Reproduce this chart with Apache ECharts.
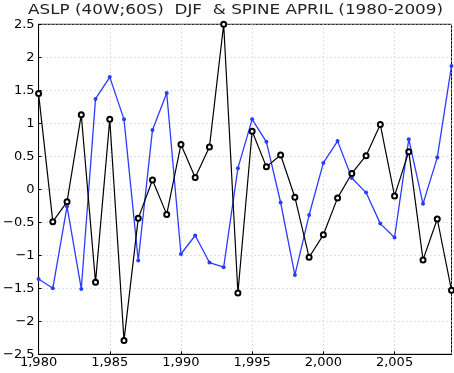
<!DOCTYPE html>
<html>
<head>
<meta charset="utf-8">
<script src="https://cdn.jsdelivr.net/npm/echarts@6/dist/echarts.min.js"></script>
<style>
  html, body { margin: 0; padding: 0; background: #fff; }
  #chart { width: 454px; height: 373px; }
</style>
</head>
<body>
<div id="chart"></div>
<script>
const years = [1980, 1981, 1982, 1983, 1984, 1985, 1986, 1987, 1988, 1989,
  1990, 1991, 1992, 1993, 1994, 1995, 1996, 1997, 1998, 1999,
  2000, 2001, 2002, 2003, 2004, 2005, 2006, 2007, 2008, 2009];
const aslp = [1.45, -0.49, -0.19, 1.13, -1.41, 1.06, -2.29, -0.44, 0.14, -0.38,
  0.68, 0.18, 0.64, 2.5, -1.57, 0.88, 0.34, 0.52, -0.12, -1.03,
  -0.69, -0.13, 0.24, 0.51, 0.98, -0.1, 0.57, -1.07, -0.45, -1.53];
const spine = [-1.36, -1.5, -0.26, -1.51, 1.37, 1.7, 1.06, -1.08, 0.9, 1.46,
  -0.98, -0.7, -1.11, -1.18, 0.32, 1.06, 0.72, -0.2, -1.3, -0.39,
  0.4, 0.73, 0.17, -0.05, -0.52, -0.73, 0.76, -0.22, 0.48, 1.87];
const titleText = 'ASLP (40W;60S)  DJF  & SPINE APRIL (1980-2009)';

const chart = echarts.init(document.getElementById('chart'));
const pair = (vals) => years.map((y, i) => [y, vals[i]]);
const fontFam = 'DejaVu Sans';

chart.setOption({
  animation: false,
  graphic: [{
    type: 'text', left: 28, top: 3, scaleX: 1.2,
    style: { text: titleText, font: '14px "DejaVu Sans"', fill: '#222' }
  }],
  grid: { left: 37.7, right: 2.5, top: 24.3, bottom: 18.7, show: true, borderColor: '#000', borderWidth: 1 },
  xAxis: {
    type: 'value', min: 1980, max: 2009, interval: 5,
    axisLine: { show: true, onZero: false, lineStyle: { color: '#000' } },
    axisTick: { show: true, inside: true, length: 3, lineStyle: { color: '#000' } },
    axisLabel: { fontFamily: fontFam, fontSize: 13, color: '#000', margin: 2, showMaxLabel: false },
    splitLine: { show: true, lineStyle: { color: '#c4c4c4', type: [1, 3] } }
  },
  yAxis: {
    type: 'value', min: -2.5, max: 2.5, interval: 0.5,
    axisLine: { show: true, onZero: false, lineStyle: { color: '#000' } },
    axisTick: { show: true, inside: true, length: 3, lineStyle: { color: '#000' } },
    axisLabel: {
      fontFamily: fontFam, fontSize: 13, color: '#000', margin: 4,
      formatter: (v) => String(v).replace('-', '\u2212')
    },
    splitLine: { show: true, lineStyle: { color: '#c4c4c4', type: [1, 3] } }
  },
  series: [
    {
      name: 'SPINE', type: 'line', data: pair(spine),
      symbol: 'circle', symbolSize: 4,
      lineStyle: { color: '#2b3cff', width: 1.3 },
      itemStyle: { color: '#2b3cff' }
    },
    {
      name: 'ASLP', type: 'line', data: pair(aslp),
      symbol: 'emptyCircle', symbolSize: 5,
      lineStyle: { color: '#000', width: 1.2 },
      itemStyle: { color: '#000', borderWidth: 0.9 }
    }
  ]
});
</script>
</body>
</html>
